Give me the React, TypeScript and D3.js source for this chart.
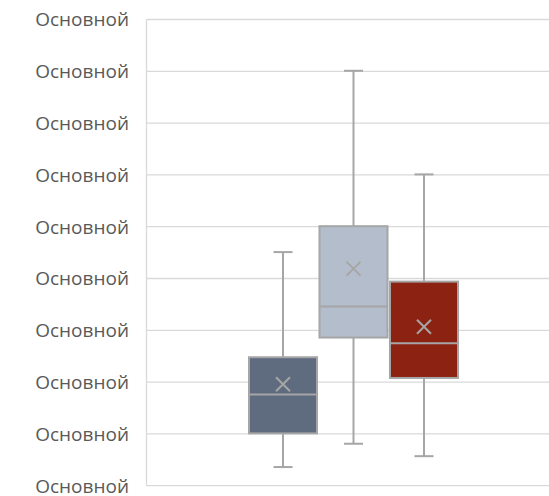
import React from "react";
import * as d3 from "d3";

const tickLabels = ["Основной","Основной","Основной","Основной","Основной","Основной","Основной","Основной","Основной","Основной"];
const tickValues = [0,1,2,3,4,5,6,7,8,9];
const series = ["A","B","C"];
const colors = ["#5f6b7f","#b3bdcc","#8c2212"];
const mins = [0.36, 0.81, 0.57];
const q1s = [1.01, 2.86, 2.08];
const medians = [1.76, 3.46, 2.75];
const q3s = [2.48, 5.01, 3.94];
const maxs = [4.51, 8.01, 6.01];
const means = [1.96, 4.19, 3.07];

export default function App() {
  const W = 549, H = 496;
  const left = 146.5, right = 549;
  const y = d3.scaleLinear().domain([0, 9]).range([485.7, 19.5]);
  const x = d3.scaleBand<string>().domain(series).range([249, 458]).paddingInner(0.035);
  const bw = x.bandwidth();
  const grid = "#d9d9d9";
  const stroke = "#a6a6a6";
  return (
    <svg width={W} height={H} style={{ position: "absolute", left: 0, top: 0 }}>
      <rect width={W} height={H} fill="#fff" />
      {tickValues.map((v, i) => (
        <g key={i}>
          <line x1={left} x2={right} y1={y(v)} y2={y(v)} stroke={grid} strokeWidth={1.3} />
          <text x={129} y={y(v)} dy="0.36em" textAnchor="end" fontFamily="Open Sans" fontSize={19} fill="#595959">{tickLabels[i]}</text>
        </g>
      ))}
      <line x1={left} x2={left} y1={y(9)} y2={y(0)} stroke={grid} strokeWidth={1.3} />
      {series.map((s, i) => {
        const x0 = x(s)!;
        const cx = x0 + bw / 2;
        const cap = 19;
        const m = 7;
        return (
          <g key={s}>
            <line x1={cx} x2={cx} y1={y(maxs[i])} y2={y(q3s[i])} stroke={stroke} strokeWidth={2} />
            <line x1={cx} x2={cx} y1={y(q1s[i])} y2={y(mins[i])} stroke={stroke} strokeWidth={2} />
            <line x1={cx - cap / 2} x2={cx + cap / 2} y1={y(maxs[i])} y2={y(maxs[i])} stroke={stroke} strokeWidth={2} />
            <line x1={cx - cap / 2} x2={cx + cap / 2} y1={y(mins[i])} y2={y(mins[i])} stroke={stroke} strokeWidth={2} />
            <rect x={x0} y={y(q3s[i])} width={bw} height={y(q1s[i]) - y(q3s[i])} fill={colors[i]} stroke={stroke} strokeWidth={2} />
            <line x1={x0} x2={x0 + bw} y1={y(medians[i])} y2={y(medians[i])} stroke={stroke} strokeWidth={2} />
            <path d={`M${cx - m},${y(means[i]) - m}L${cx + m},${y(means[i]) + m}M${cx + m},${y(means[i]) - m}L${cx - m},${y(means[i]) + m}`} stroke={stroke} strokeWidth={2} />
          </g>
        );
      })}
    </svg>
  );
}
